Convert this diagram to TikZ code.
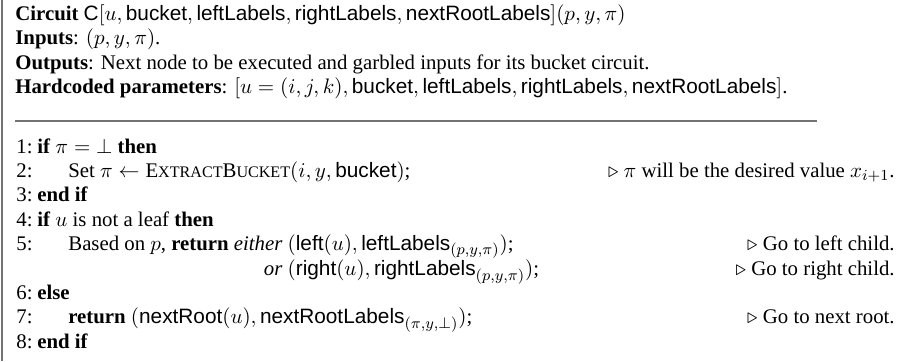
\documentclass[tikz,border=0pt]{standalone}
\usepackage{fontspec}
\setmainfont{Liberation Serif}
\setsansfont{Liberation Sans}
\newcommand{\fakesc}[2]{#1{\fontsize{8.4}{10}\selectfont #2}}
\begin{document}
\begin{tikzpicture}[x=0.5217pt,y=-0.5217pt,
  txt/.style={anchor=base west, inner sep=0pt, font=\fontsize{10.85}{13}\selectfont},
  cmt/.style={anchor=base east, inner sep=0pt, font=\fontsize{10.85}{13}\selectfont},
  frame/.style={draw=black!55, line width=0.8pt},
  rulestyle/.style={draw=black!55, line width=0.9pt}]
\useasboundingbox (0,0) rectangle (907,361);
\coordinate (ft) at (2,0); \coordinate (fb) at (2,361);
\draw[frame] (ft) -- (fb);
% header
\node[txt] (h1) at (15,20) {\textbf{Circuit} $\mathsf{C}[u,\mathsf{bucket},\mathsf{leftLabels},\mathsf{rightLabels},\mathsf{nextRootLabels}](p,y,\pi)$};
\node[txt] (h2) at (15,44.6) {\textbf{Inputs}: $(p,y,\pi)$.};
\node[txt] (h3) at (15,69.2) {\textbf{Outputs}: Next node to be executed and garbled inputs for its bucket circuit.};
\node[txt] (h4) at (15,93.8) {\textbf{Hardcoded parameters}: $[u=(i,j,k),\mathsf{bucket},\mathsf{leftLabels},\mathsf{rightLabels},\mathsf{nextRootLabels}]$.};
\coordinate (rl) at (15,121); \coordinate (rr) at (817,121);
\draw[rulestyle] (rl) -- (rr);
% algorithm
\node[txt] (n1) at (16,153) {1:};
\node[txt] (b1) at (37,153) {\textbf{if} $\pi={\perp}$ \textbf{then}};
\node[txt] (n2) at (16,177.4) {2:};
\node[txt] (b2) at (68,177.4) {Set $\pi\leftarrow{}$\fakesc{E}{XTRACT}\fakesc{B}{UCKET}$(i,y,\mathsf{bucket})$;};
\node[cmt] (c2) at (895,177.4) {$\triangleright$ $\pi$ will be the desired value $x_{i+1}$.};
\node[txt] (n3) at (16,201.8) {3:};
\node[txt] (b3) at (37,201.8) {\textbf{end if}};
\node[txt] (n4) at (16,226.2) {4:};
\node[txt] (b4) at (37,226.2) {\textbf{if} $u$ is not a leaf \textbf{then}};
\node[txt] (n5) at (16,250.6) {5:};
\node[txt] (b5) at (68,250.6) {Based on $p$, \textbf{return} \emph{either} $(\mathsf{left}(u),\mathsf{leftLabels}_{(p,y,\pi)})$;};
\node[cmt] (c5) at (895,250.6) {$\triangleright$ Go to left child.};
\node[txt] (b6) at (68,275) {\hphantom{Based on $p$, \textbf{return} \emph{either} }\llap{\emph{or} }$(\mathsf{right}(u),\mathsf{rightLabels}_{(p,y,\pi)})$;};
\node[cmt] (c6) at (895,275) {$\triangleright$ Go to right child.};
\node[txt] (n6) at (16,299.4) {6:};
\node[txt] (b7) at (37,299.4) {\textbf{else}};
\node[txt] (n7) at (16,323.8) {7:};
\node[txt] (b8) at (68,323.8) {\textbf{return} $(\mathsf{nextRoot}(u),\mathsf{nextRootLabels}_{(\pi,y,\perp)})$;};
\node[cmt] (c8) at (895,323.8) {$\triangleright$ Go to next root.};
\node[txt] (n8) at (16,348.2) {8:};
\node[txt] (b9) at (37,348.2) {\textbf{end if}};
\end{tikzpicture}
\end{document}
